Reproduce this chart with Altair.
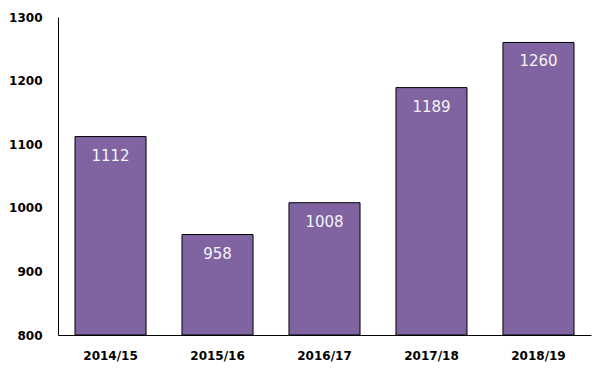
import altair as alt
import pandas as pd

years = ["2014/15", "2015/16", "2016/17", "2017/18", "2018/19"]
values = [1112, 958, 1008, 1189, 1260]

df = pd.DataFrame({"year": years, "value": values})

base = alt.Chart(df).encode(
    x=alt.X("year:N", sort=years,
            scale=alt.Scale(paddingInner=0.336, paddingOuter=0.159),
            axis=alt.Axis(title=None, labelAngle=0, ticks=False, domainColor="black",
                          labelFont="DejaVu Sans", labelFontWeight="bold", labelFontSize=12,
                          labelColor="black", labelPadding=15)),
    y=alt.Y("value:Q", scale=alt.Scale(domain=[800, 1300], nice=False, zero=False),
            axis=alt.Axis(title=None, values=[800, 900, 1000, 1100, 1200, 1300], grid=False,
                          ticks=False, domainColor="black", labelFont="DejaVu Sans",
                          labelFontWeight="bold", labelFontSize=12, labelColor="black",
                          labelPadding=16, format="d")),
)

bars = base.mark_bar(color="#8064A2", stroke="black", strokeWidth=1, clip=True).encode(
    y2=alt.datum(800)
)
labels = base.mark_text(font="DejaVu Sans", fontSize=15, color="#f4f4f4", baseline="middle", dy=19).encode(
    text="value:Q"
)

chart = (bars + labels).properties(
    width=533, height=318,
    autosize=alt.AutoSizeParams(type="none"),
    padding={"left": 50, "top": 9, "right": 6, "bottom": 31},
).configure_view(stroke=None)

chart.save("out.html", embed_options={"renderer": "svg", "actions": False})
